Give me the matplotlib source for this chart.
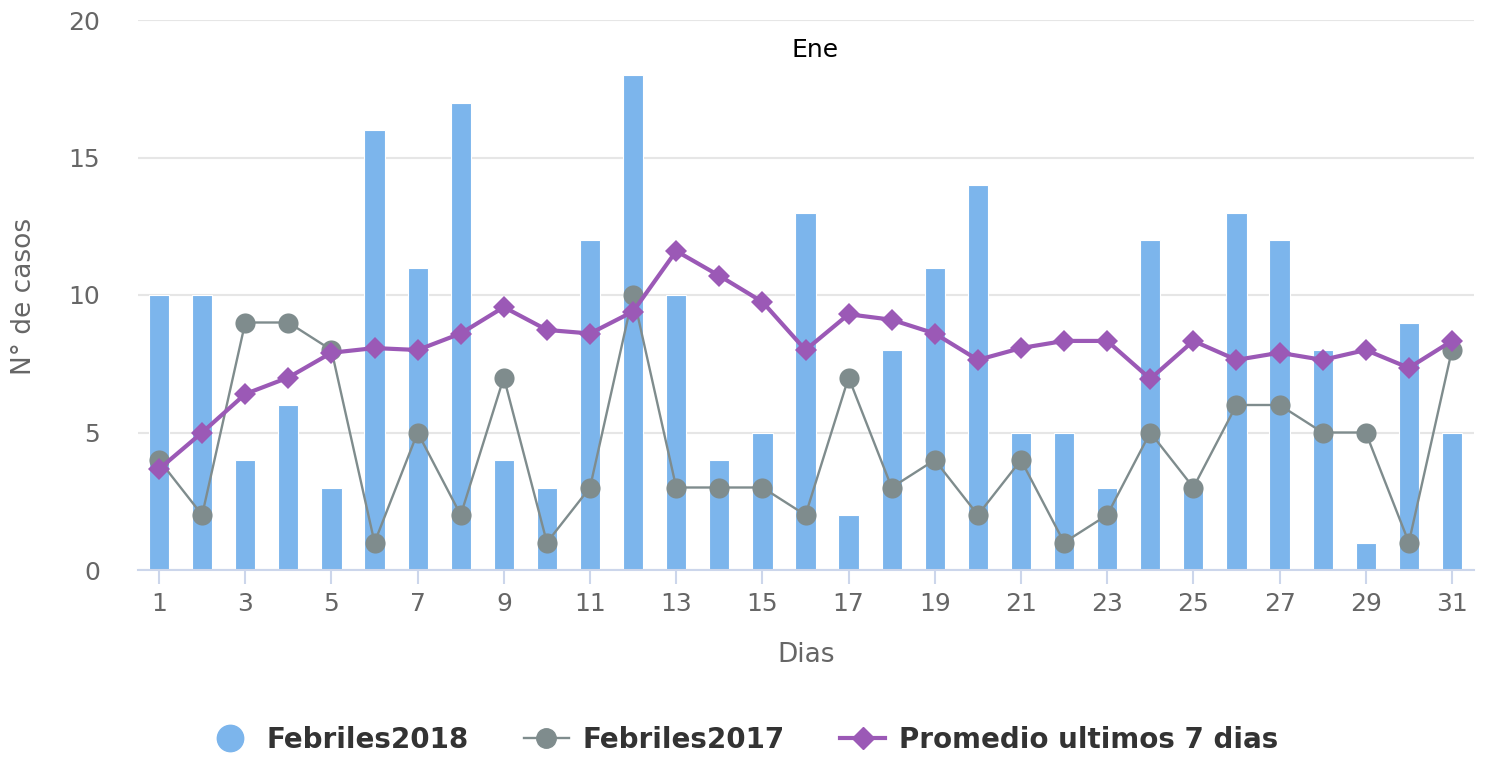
import matplotlib.pyplot as plt
from matplotlib.lines import Line2D
import numpy as np

# Data
dias = list(range(1, 32))
febriles2018 = [10, 10, 4, 6, 3, 16, 11, 17, 4, 3, 12, 18, 10, 4, 5, 13,
                2, 8, 11, 14, 5, 5, 3, 12, 3, 13, 12, 8, 1, 9, 5]
febriles2017 = [4, 2, 9, 9, 8, 1, 5, 2, 7, 1, 3, 10, 3, 3, 3, 2,
                7, 3, 4, 2, 4, 1, 2, 5, 3, 6, 6, 5, 5, 1, 8]
promedio7 = [3.67, 5.0, 6.4, 7.0, 7.9, 8.07, 8.0, 8.6, 9.56, 8.73, 8.6, 9.4,
             11.6, 10.7, 9.75, 8.0, 9.3, 9.1, 8.6, 7.64, 8.07, 8.33, 8.33,
             6.95, 8.33, 7.64, 7.9, 7.64, 8.0, 7.35, 8.33]
y_ticks = [0, 5, 10, 15, 20]

BLUE = '#7cb5ec'
GRAY = '#7f8c8d'
PURPLE = '#9b59b6'
GRID = '#e6e6e6'
AXIS = '#ccd6eb'
LABEL = '#666666'

fig = plt.figure(figsize=(14.86, 7.57), dpi=100)
W, H = 1486, 757
left, right, top, bottom = 137.5, 1473.5, 20, 570
ax = fig.add_axes([left / W, 1 - bottom / H, (right - left) / W, (bottom - top) / H])

x = np.array(dias)
ax.bar(x, febriles2018, width=0.47, color=BLUE, edgecolor='white', linewidth=0.8, zorder=2)
ax.plot(x, febriles2017, color=GRAY, linewidth=1.7, marker='o', markersize=14.5,
        markeredgewidth=0, zorder=3)
ax.plot(x, promedio7, color=PURPLE, linewidth=3, marker='D', markersize=11,
        markeredgewidth=0, zorder=4)

ax.set_xlim(0.5, 31.5)
ax.set_ylim(0, 20)
ax.set_yticks(y_ticks)
ax.set_xticks(dias[::2])
ax.yaxis.grid(True, color=GRID, linewidth=1.5, zorder=0)
ax.set_axisbelow(True)

for s in ['top', 'right', 'left']:
    ax.spines[s].set_visible(False)
ax.spines['bottom'].set_color(AXIS)
ax.spines['bottom'].set_linewidth(1.5)

ax.tick_params(axis='y', length=0, labelsize=18, labelcolor=LABEL, pad=27)
ax.tick_params(axis='x', length=10, width=1.5, color=AXIS, labelsize=18,
               labelcolor=LABEL, pad=6)

fig.text(806 / W, 1 - 655 / H, 'Dias', fontsize=19, color=LABEL,
         ha='center', va='center')
fig.text(24 / W, 1 - 296 / H, 'N° de casos', rotation=90, fontsize=19, color=LABEL,
         ha='center', va='center')
fig.text(815 / W, 1 - 50 / H, 'Ene', fontsize=18, color='black', ha='center', va='center')

handles = [
    Line2D([], [], linestyle='none', marker='o', markersize=19, color=BLUE),
    Line2D([], [], color=GRAY, linewidth=1.7, marker='o', markersize=14),
    Line2D([], [], color=PURPLE, linewidth=3, marker='D', markersize=11),
]
labels = ['Febriles2018', 'Febriles2017', 'Promedio ultimos 7 dias']
leg = fig.legend(handles, labels, loc='center', bbox_to_anchor=(743 / W, 1 - 740 / H),
                 ncol=3, frameon=False, prop={'size': 20, 'weight': 'bold'},
                 handlelength=1.6, columnspacing=2.0, handletextpad=0.5)
for t in leg.get_texts():
    t.set_color('#333333')

fig.savefig('out.png', dpi=100)
